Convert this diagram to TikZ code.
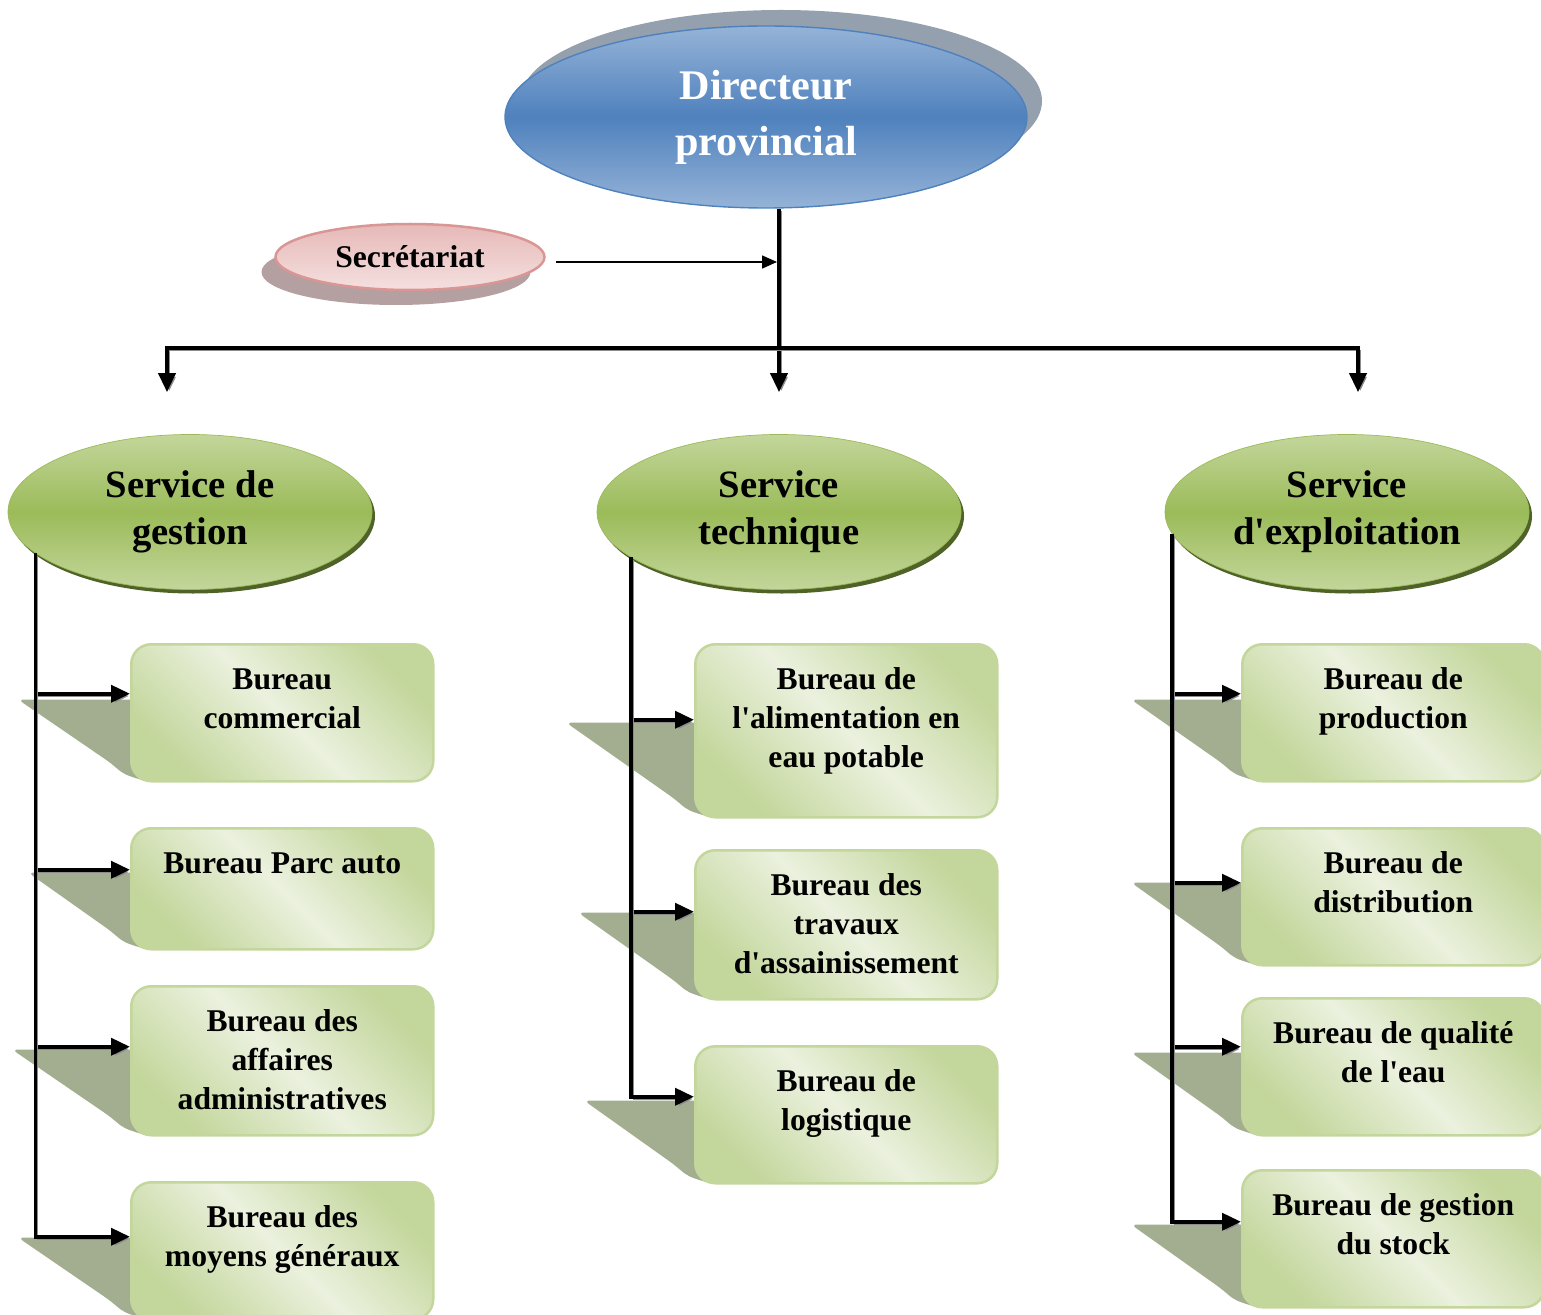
\documentclass[tikz,border=0pt]{standalone}
\usepackage{fontspec}
\setmainfont{Liberation Serif}
\usetikzlibrary{arrows.meta,positioning,calc,shapes.geometric,shadows,backgrounds}
\definecolor{DirBlue}{RGB}{79,129,189}
\definecolor{DirLight}{RGB}{149,179,215}
\definecolor{DirShadow}{RGB}{148,160,174}
\definecolor{SecPink}{RGB}{230,185,184}
\definecolor{SecLight}{RGB}{244,224,223}
\definecolor{SecBorder}{RGB}{217,150,148}
\definecolor{SecShadow}{RGB}{180,160,160}
\definecolor{SrvGreen}{RGB}{155,187,89}
\definecolor{SrvLight}{RGB}{195,214,155}
\definecolor{SrvDark}{RGB}{79,98,40}
\definecolor{BurLight}{RGB}{235,241,222}
\definecolor{BurShadow}{RGB}{163,174,144}
\newcommand{\burtext}[2]{\parbox[t][#1][t]{60.4mm}{\centering\vspace*{3.5mm}\strut #2}}
\newcommand{\apos}{\textquotesingle}
\tikzset{
  director/.style={ellipse, draw=DirBlue, thick, top color=DirLight,
    bottom color=DirLight, middle color=DirBlue, minimum width=104.4mm,
    minimum height=36.4mm, inner sep=0pt, text=white, align=center,
    font=\fontsize{24}{32}\selectfont\bfseries,
    drop shadow={shadow xshift=3mm, shadow yshift=3.2mm, fill=DirShadow, opacity=1}},
  secretariat/.style={ellipse, draw=SecBorder, line width=0.5mm, top color=SecPink,
    bottom color=SecLight, minimum width=53.8mm, minimum height=13.2mm,
    inner sep=0pt, font=\fontsize{18}{22}\selectfont\bfseries,
    drop shadow={shadow xshift=-2.8mm, shadow yshift=-3mm, fill=SecShadow, opacity=1}},
  service/.style={ellipse, draw=SrvGreen, top color=SrvLight, bottom color=SrvLight,
    middle color=SrvGreen, minimum width=72.8mm, minimum height=31mm,
    inner sep=0pt, align=center, font=\fontsize{22}{26.7}\selectfont\bfseries,
    drop shadow={shadow xshift=0.6mm, shadow yshift=-0.8mm, fill=SrvDark, opacity=1}},
  bureau/.style={rectangle, rounded corners=4mm, draw=SrvLight, line width=0.5mm,
    top color=SrvLight, bottom color=SrvLight, middle color=BurLight,
    shading angle=-45, inner sep=0pt, anchor=north west,
    font=\fontsize{18}{22.2}\selectfont\bfseries},
  burshadow/.style={fill=BurShadow, rounded corners=1.2mm},
  link/.style={line width=0.75mm, -{Triangle[length=3.8mm,width=3.4mm]},
    preaction={draw=black!45, transform canvas={xshift=0.45mm,yshift=-0.45mm}}},
  thinlink/.style={line width=0.3mm, -{Triangle[length=3mm,width=2.6mm]}}
}
\begin{document}
\begin{tikzpicture}[x=0.2mm, y=-0.2mm]
  \useasboundingbox (0,0) rectangle (1541,1314);
  % direction
  \node[director] (dir) at (766,117) {Directeur\\provincial};
  \node[secretariat] (sec) at (410,257) {Secrétariat};
  % services
  \node[service] (srvG) at (190,512) {Service de\\gestion};
  \node[service] (srvT) at (779,512) {Service\\technique};
  \node[service] (srvE) at (1347,512) {Service\\d\apos exploitation};
  % bureaux du service de gestion
  \node[bureau] (b1) at (130,643) {\burtext{27.4mm}{Bureau\\commercial}};
  \node[bureau] (b2) at (130,827) {\burtext{24.2mm}{Bureau Parc auto}};
  \node[bureau] (b3) at (130,985) {\burtext{29.8mm}{Bureau des\\affaires\\administratives}};
  \node[bureau] (b4) at (130,1181) {\burtext{27.4mm}{Bureau des\\moyens généraux}};
  % bureaux du service technique
  \node[bureau] (m1) at (694,643) {\burtext{34.6mm}{Bureau de\\l\apos alimentation en\\eau potable}};
  \node[bureau] (m2) at (694,849) {\burtext{29.8mm}{Bureau des\\travaux\\d\apos assainissement}};
  \node[bureau] (m3) at (694,1045) {\burtext{27.4mm}{Bureau de\\logistique}};
  % bureaux du service d'exploitation
  \node[bureau] (r1) at (1241,643) {\burtext{27.4mm}{Bureau de\\production}};
  \node[bureau] (r2) at (1241,827) {\burtext{27.4mm}{Bureau de\\distribution}};
  \node[bureau] (r3) at (1241,997) {\burtext{27.4mm}{Bureau de qualité\\de l\apos eau}};
  \node[bureau] (r4) at (1241,1169) {\burtext{27.4mm}{Bureau de gestion\\du stock}};
  % ombres
  \begin{scope}[on background layer]
    \foreach \bur/\h/\l in {b1/83/112, b2/78/102, b3/87/118, b4/83/112,
        m1/96/128, m2/88/116, m3/84/110, r1/83/110, r2/84/110, r3/84/110, r4/84/110}
      \fill[burshadow] ($(\bur.south west)+(10,-\h)$) -- ($(\bur.south west)+(-\l,-\h)$)
        -- ($(\bur.south west)+(-20,-20)$) .. controls ($(\bur.south west)+(-6,-8)$)
        .. ($(\bur.south west)+(20,0)$) -- cycle;
  \end{scope}
  % liaisons
  \coordinate (bus) at ($(dir.south -| srvT.north)+(0,139)$);
  \draw[link, shorten >=8.4mm] (dir.south -| srvT.north) -- (srvT.north);
  \draw[link, shorten >=8.4mm] (bus) -| ([xshift=-4.6mm]srvG.north);
  \draw[link, shorten >=8.4mm] (bus) -| ([xshift=2.2mm]srvE.north);
  \draw[thinlink, shorten <=2mm] ($(sec.east)+(0,5)$) -- ($(sec.east -| bus)+(-2,5)$);
  \foreach \s/\ang/\bur/\dy in {srvG/195/b1/19, srvG/195/b2/19, srvG/195/b3/14,
      srvG/195/b4/14, srvT/197/m1/11, srvT/197/m2/13, srvT/197/m3/18,
      srvE/187/r1/19, srvE/187/r2/14, srvE/187/r3/20, srvE/187/r4/17}
    \draw[link] (\s.\ang) |- ($(\bur.west)+(0,-\dy)$);
\end{tikzpicture}
\end{document}
